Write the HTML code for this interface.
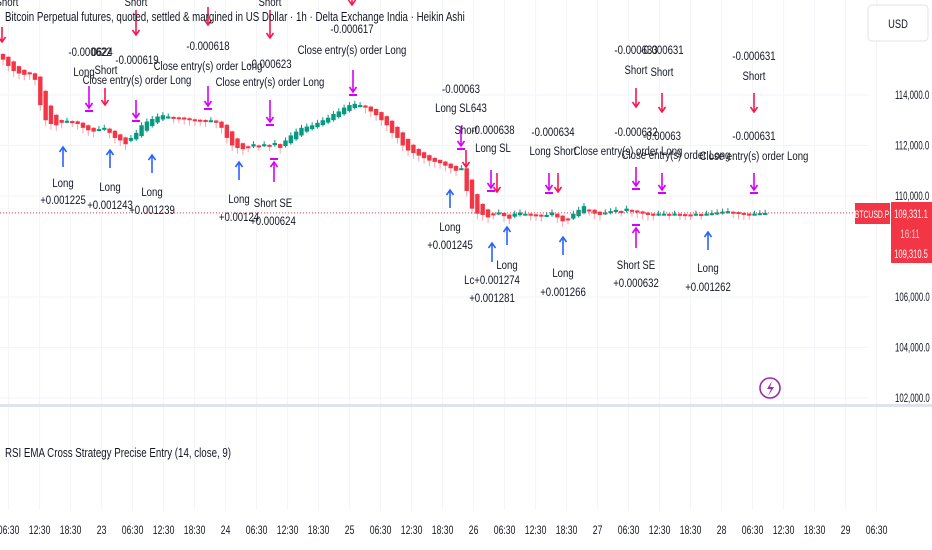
<!DOCTYPE html>
<html><head><meta charset="utf-8"><style>
html,body{margin:0;padding:0;background:#fff;}
svg{display:block;font-family:"Liberation Sans",sans-serif;}
</style></head><body>
<svg id="c" width="932" height="550" viewBox="0 0 932 550"></svg>
<script>
const closes=[115400,115150,114950,114850,114800,114820,114600,
113600,113000,112850,112800,112900,
112980,112950,112850,112700,112600,112550,112650,112700,
112500,112300,112200,112050,112300,112500,112800,112950,
113050,113150,113200,113150,113100,113100,113050,113000,
113000,113000,112950,113000,112900,112700,
112300,112000,111900,111850,111950,112050,112000,112050,
112000,112100,111900,112200,112400,112550,112700,112750,
112800,112900,113000,113100,113250,113350,113500,113600,
113650,113600,113500,113350,113200,113000,112800,112500,
112300,112000,111800,111700,111600,111500,111400,111350,
111300,111200,111100,111000,111100,110200,109500,109300,
109250,109150,109300,109350,109200,109100,109300,109350,
109300,109250,109250,109200,109250,109350,109150,109000,
109100,109300,109450,109600,109450,109300,109250,109350,
109400,109450,109400,109500,109400,109350,109300,109250,
109250,109300,109300,109280,109300,109270,109260,109270,
109300,109280,109300,109320,109350,109380,109400,109350,
109300,109270,109280,109300,109320,109330];
const priceTicks=[102000,104000,106000,110000,112000,114000];
const timeLabels=["06:30","12:30","18:30","23","06:30","12:30","18:30","24","06:30","12:30","18:30","25","06:30","12:30","18:30","26","06:30","12:30","18:30","27","06:30","12:30","18:30","28","06:30","12:30","18:30","29","06:30"];
const lastPrice=109331.1;

const NS="http://www.w3.org/2000/svg";
const svg=document.getElementById('c');
function el(t,a,p){const e=document.createElementNS(NS,t);for(const k in a)e.setAttribute(k,a[k]);(p||svg).appendChild(e);return e;}
function yS(p){return 196-(p-110000)*0.02525;}
function xS(i){return 3+i*5.33;}
function tX(k){return 8.6+k*31;}
function txt(x,y,s,o){o=o||{};const g=el('g',{transform:`translate(${x},${y}) scale(${o.sx||0.8},1)`});const t=el('text',{x:0,y:0,'font-size':o.fs||12,fill:o.fill||'#131722','text-anchor':o.anchor||'middle'},g);t.textContent=s;return g;}

// grid
priceTicks.forEach(p=>{const l=el('line',{x1:0,x2:868,y1:yS(p),y2:yS(p),stroke:'#f0f3fa'});});
timeLabels.forEach((s,k)=>{const l=el('line',{x1:tX(k),x2:tX(k),y1:0,y2:510,stroke:'#f3f4f8'});});

// candles (Heikin Ashi style open)
const cg=el('g',{});
let prevO=closes[0]+300,prevC=closes[0]+150;
closes.forEach((c,i)=>{const o=(prevO+prevC)/2;prevO=o;prevC=c;const up=c>=o;const col=up?'#089981':'#f23645';const x=xS(i);
const hi=Math.max(o,c)+(up?120:40),lo=Math.min(o,c)-(up?60:220);
el('line',{x1:x,x2:x,y1:yS(hi),y2:yS(lo),stroke:up?'#089981':'#f7a1a9','stroke-width':1},cg);
const r=el('rect',{x:x-2.2,y:yS(Math.max(o,c)),width:4.4,height:Math.max(2,Math.abs(yS(o)-yS(c))),fill:col},cg);
});

// last price line
const lp=el('line',{x1:0,x2:868,y1:yS(lastPrice),y2:yS(lastPrice),stroke:'#f23645','stroke-dasharray':'1 2','stroke-width':1});


// annotations
function arrow(x,y1,y2,col,bar,name){const g=el('g',{});
const down=y2>y1;el('line',{x1:x,x2:x,y1:y1,y2:y2,stroke:col,'stroke-width':1.6},g);
const h=down?-5:5;el('path',{d:`M${x-3.5},${y2+h} L${x},${y2} L${x+3.5},${y2+h}`,fill:'none',stroke:col,'stroke-width':1.6},g);
if(bar){const by=down?y2+3:y2-3;el('line',{x1:x-4,x2:x+4,y1:by,y2:by,stroke:col,'stroke-width':2},g);}}
const B='#2962ff',R='#f7174d',M='#d500f9';
[[63,147,167,183,200,'+0.001225'],[110,150,168,187,205,'+0.001243'],[152,155,173,192,210,'+0.001239'],[239,162,180,199,217,'+0.00124'],[450,190,208,227,245,'+0.001245'],[507,227,245,265,null],[563,237,255,273,292,'+0.001266'],[708,232,250,268,287,'+0.001262']].forEach(a=>{arrow(a[0],a[2],a[1],B,false,'long-entry-arrow');txt(a[0],a[3]+4,'Long');if(a[5])txt(a[0],a[4]+4,a[5]);});
arrow(492,262,243,B,false,'long-entry-arrow');txt(492,284,'Lc+0.001274');txt(492,302,'+0.001281');
[[2,27,42],[105,88,105],[136,10,35],[208,7,25],[270,10,38],[352,0,5],[466,150,167],[497,173,192],[558,173,192],[636,88,107],[662,93,112],[754,93,112]].forEach(a=>arrow(a[0],a[1],a[2],R,false,'short-entry-arrow'));
[[89,86,108],[136,100,118],[208,86,106],[270,100,122],[353,70,92],[461,126,146],[491,170,188],[549,173,190],[636,167,186],[662,173,190],[754,173,190]].forEach(a=>arrow(a[0],a[1],a[2],M,true,'close-long-arrow'));
arrow(274,182,162,M,true,'close-short-arrow');arrow(636,248,228,M,true,'close-short-arrow');
[[7,2,'Short'],[136,2,'Short'],[270,2,'Short'],[90,52,'-0.000622'],[102,52,'0624'],[84,72,'Long'],[106,70,'Short'],[137,80,'Close entry(s) order Long'],[137,60,'-0.000619'],[208,46,'-0.000618'],[208,66,'Close entry(s) order Long'],[270,64,'-0.000623'],[270,82,'Close entry(s) order Long'],[352,29,'-0.000617'],[352,50,'Close entry(s) order Long'],
[461,89,'-0.00063'],[461,108,'Long SL643'],[466,130,'Short'],[493,130,'-0.000638'],[493,148,'Long SL'],[553,132,'-0.000634'],[553,151,'Long Short'],
[636,50,'-0.000633'],[636,70,'Short'],[662,50,'-0.000631'],[662,72,'Short'],[636,132,'-0.000632'],[628,151,'Close entry(s) order Long'],[662,136,'-0.00063'],[676,155,'Close entry(s) order Long'],[754,56,'-0.000631'],[754,76,'Short'],[754,136,'-0.000631'],[754,156,'Close entry(s) order Long'],
[273,203,'Short SE'],[273,221,'+0.000624'],[636,265,'Short SE'],[636,283,'+0.000632']].forEach(a=>{const g=txt(a[0],a[1]+4,a[2]);});

const tt=txt(5,21,'Bitcoin Perpetual futures, quoted, settled & margined in US Dollar · 1h · Delta Exchange India · Heikin Ashi',{anchor:'start',fs:12.5,sx:0.78});

priceTicks.forEach(p=>{const g=txt(895,yS(p)+4,p.toLocaleString('en-US')+'.0',{anchor:'start',fs:11.5,sx:0.68});});
const usd=el('rect',{x:868,y:5,width:60,height:36,rx:4,fill:'#fff',stroke:'#e0e3eb'});
txt(898,28,'USD',{fs:12,sx:0.78});
const tk=el('rect',{x:855,y:203,width:35,height:21,fill:'#f23645'});
txt(872,218,'BTCUSD.P',{fs:11,sx:0.62,fill:'#fff'});
const pb=el('rect',{x:891,y:202,width:41,height:61,fill:'#f23645'});
txt(911,218,'109,331.1',{fs:11.5,sx:0.66,fill:'#fff'});txt(910,238,'16:11',{fs:11.5,sx:0.7,fill:'#fcc'});txt(911,258,'109,310.5',{fs:11.5,sx:0.66,fill:'#fff'});
const lg=el('g',{});
el('circle',{cx:770,cy:388,r:10,fill:'#fff',stroke:'#9c27b0','stroke-width':1.6},lg);
el('path',{d:'M772,381 L767,389 L771,389 L768,396 L774,387 L770,387 Z',fill:'#9c27b0'},lg);

const sp=el('rect',{x:0,y:404,width:932,height:3,fill:'#e0e3eb'});
const il=txt(5,457,'RSI EMA Cross Strategy Precise Entry (14, close, 9)',{anchor:'start',fs:12.5,sx:0.78});
timeLabels.forEach((s,k)=>{const g=txt(tX(k),534,s,{fs:12,sx:0.72});});
</script>
</body></html>
